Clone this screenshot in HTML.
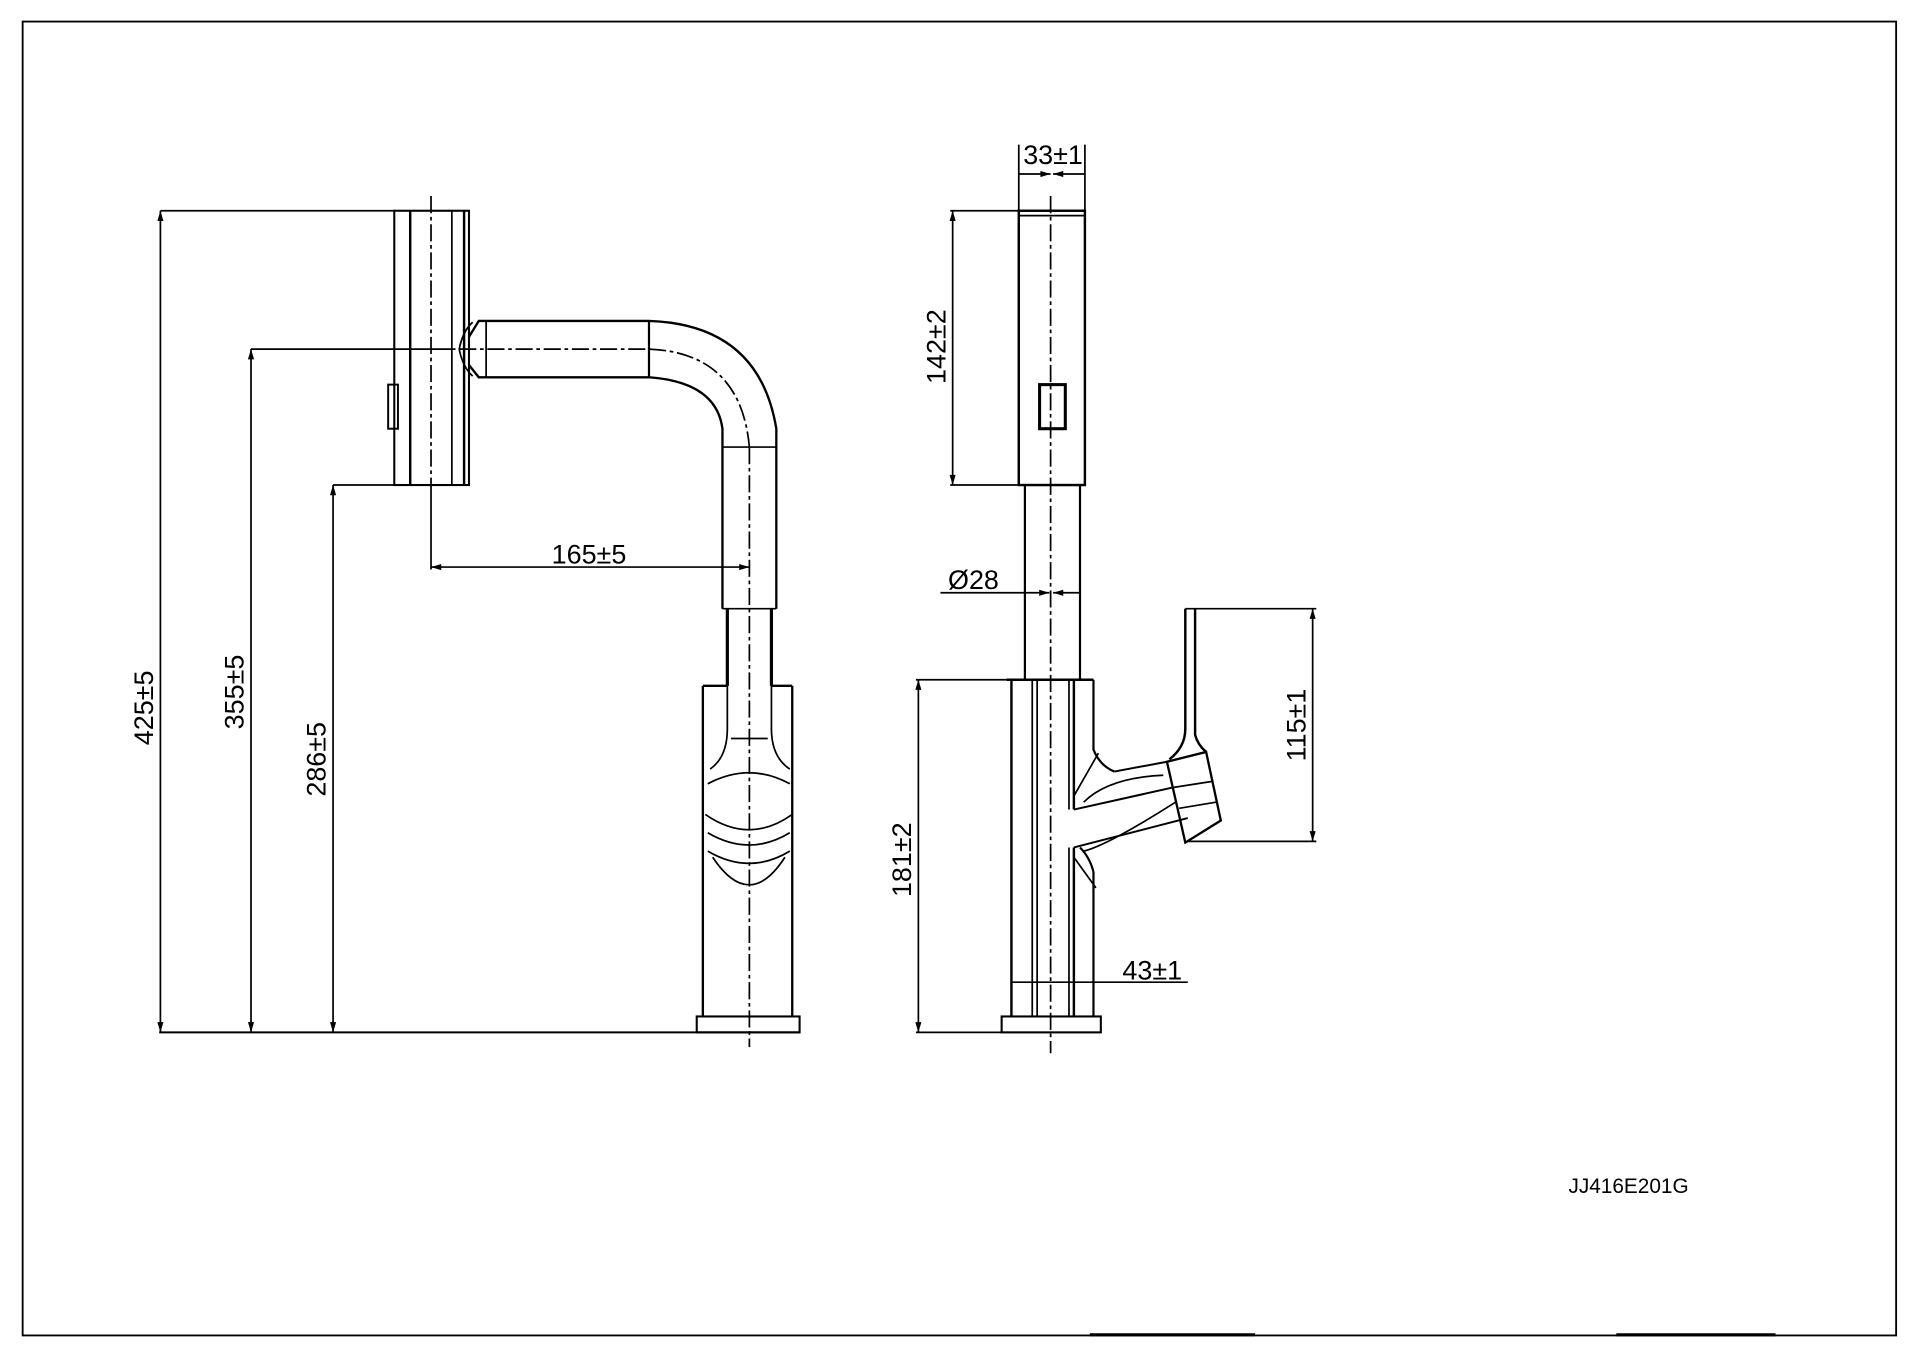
<!DOCTYPE html>
<html><head><meta charset="utf-8"><style>
html,body{margin:0;padding:0;background:#fff;}
svg{display:block;}
text{font-family:"Liberation Sans",Arial,sans-serif;fill:#000;}
</style></head><body>
<svg width="1920" height="1357" viewBox="0 0 1568 1108" xmlns="http://www.w3.org/2000/svg">
<defs>
<marker id="a" viewBox="0 0 10 6" refX="10" refY="3" markerWidth="11" markerHeight="5" orient="auto-start-reverse" markerUnits="userSpaceOnUse"><path d="M0,0 L10,3 L0,6 z" fill="#000"/></marker>
</defs>
<rect x="18.5" y="17.5" width="1530" height="1073" fill="none" stroke="#000" stroke-width="1.5"/>
<g stroke="#000" fill="none" stroke-width="1.4">
<line x1="130" y1="843" x2="653" y2="843" stroke-width="1.6"/>
<line x1="131" y1="172" x2="322" y2="172"/>
<line x1="205" y1="285" x2="372" y2="285"/>
<line x1="272" y1="396" x2="322" y2="396"/>
<line x1="131" y1="172" x2="131" y2="843" marker-start="url(#a)" marker-end="url(#a)"/>
<line x1="205" y1="285" x2="205" y2="843" marker-start="url(#a)" marker-end="url(#a)"/>
<line x1="272" y1="396" x2="272" y2="843" marker-start="url(#a)" marker-end="url(#a)"/>
<line x1="352" y1="396" x2="352" y2="465"/>
<line x1="352" y1="463" x2="612" y2="463" marker-start="url(#a)" marker-end="url(#a)"/>
<rect x="322" y="172" width="61" height="224" stroke-width="1.7"/>
<line x1="335" y1="172" x2="335" y2="396" stroke-width="2"/>
<line x1="369" y1="172" x2="369" y2="396"/>
<line x1="379" y1="172" x2="379" y2="396" stroke-width="2"/>
<rect x="317" y="314" width="8" height="36" stroke-width="1.6"/>
<line x1="352" y1="160" x2="352" y2="396" stroke-dasharray="14,3,3,3"/>
<path d="M383,275 L391,262 L530,262 Q620,265 634,350 L634,497" stroke-width="1.9"/>
<path d="M383,298 L391,308 L530,308 Q585,312 590,350 L590,497" stroke-width="1.9"/>
<path d="M375,285 Q378,270 386,263 M375,285 Q378,300 386,307"/>
<line x1="397" y1="262" x2="397" y2="308"/>
<line x1="530" y1="262" x2="530" y2="308" stroke-width="1.8"/>
<line x1="590" y1="365" x2="634" y2="365"/>
<line x1="375" y1="285" x2="530" y2="285" stroke-dasharray="14,3,3,3"/>
<path d="M530,285 Q605,288 612,365" stroke-dasharray="14,3,3,3"/>
<line x1="590" y1="497" x2="634" y2="497"/>
<path d="M594,497 L594,560 M630,497 L630,560" stroke-width="2.6"/>
<path d="M574,560 L594,560 M630,560 L647,560 M574,560 L574,830 M647,560 L647,830" stroke-width="1.9"/>
<path d="M594,560 L594,595 Q594,618 580,628 M630,560 L630,595 Q630,618 645,628"/>
<line x1="597" y1="603" x2="627" y2="603"/>
<path d="M578,640 Q612,622 645,640 M576,665 Q612,690 647,665 M578,680 Q612,700 645,680"/>
<path d="M578,695 Q612,715 645,695 M582,700 Q612,745 641,700"/>
<rect x="569" y="830" width="84" height="13" stroke-width="1.7"/>
<line x1="612" y1="365" x2="612" y2="855" stroke-dasharray="14,3,3,3"/>

<line x1="832" y1="118" x2="832" y2="172"/>
<line x1="886" y1="118" x2="886" y2="172"/>
<line x1="832" y1="142" x2="858" y2="142" marker-end="url(#a)"/>
<line x1="886" y1="142" x2="860" y2="142" marker-end="url(#a)"/>
<line x1="776" y1="172" x2="832" y2="172"/>
<line x1="776" y1="396" x2="832" y2="396"/>
<line x1="778" y1="172" x2="778" y2="396" marker-start="url(#a)" marker-end="url(#a)"/>
<rect x="832" y="172" width="54" height="224" stroke-width="2"/>
<line x1="832" y1="176" x2="886" y2="176"/>
<rect x="849" y="314" width="21" height="36" stroke-width="2.5"/>
<path d="M837,396 L837,555 M882,396 L882,555" stroke-width="1.8"/>
<line x1="768" y1="484" x2="837" y2="484"/>
<line x1="837" y1="484" x2="857" y2="484" marker-end="url(#a)"/>
<line x1="882" y1="484" x2="860" y2="484" marker-end="url(#a)"/>
<line x1="822" y1="555" x2="893" y2="555" stroke-width="2"/>
<line x1="748" y1="555" x2="822" y2="555"/>
<line x1="748" y1="843" x2="818" y2="843"/>
<line x1="750" y1="555" x2="750" y2="843" marker-start="url(#a)" marker-end="url(#a)"/>
<path d="M826,555 L826,830" stroke-width="2"/>
<line x1="843" y1="555" x2="843" y2="830"/>
<line x1="847" y1="555" x2="847" y2="830"/>
<path d="M873,555 L873,661 M873,692 L873,830"/>
<path d="M877,555 L877,661 M877,692 L877,830" stroke-width="2"/>
<path d="M893,555 L893,612 Q898,625 910,630 M893,712 L893,830 M893,712 Q890,700 882,692" stroke-width="1.8"/>
<path d="M877,661 L958,643 M877,692 L970,668 M910,630 L953,622" stroke-width="1.6"/>
<path d="M877,650 L897,615 M877,700 L895,725 M885,655 Q905,635 950,633 M885,695 Q905,690 960,655"/>
<path d="M953,622 L985,614 L997,670 L968,688 Z" stroke-width="1.9"/>
<path d="M958,643 L990,638 M963,660 L993,655"/>
<path d="M968,497 L968,595 Q968,610 955,620 M976,497 L976,600 Q978,608 985,614" stroke-width="2"/>
<line x1="968" y1="497" x2="1075" y2="497"/>
<line x1="970" y1="687" x2="1075" y2="687"/>
<line x1="1072" y1="497" x2="1072" y2="687" marker-start="url(#a)" marker-end="url(#a)"/>
<line x1="826" y1="802" x2="970" y2="802"/>
<rect x="818" y="830" width="81" height="13" stroke-width="1.7"/>
<line x1="858" y1="160" x2="858" y2="860" stroke-dasharray="14,3,3,3"/>
<line x1="890" y1="1090" x2="1025" y2="1090" stroke-width="2.5"/>
<line x1="1320" y1="1090" x2="1450" y2="1090" stroke-width="2.5"/>
</g>
<g font-size="22">
<text x="131" y="578" transform="rotate(-90 131 578)" text-anchor="middle" dy="-6">425±5</text>
<text x="205" y="565" transform="rotate(-90 205 565)" text-anchor="middle" dy="-6">355±5</text>
<text x="272" y="620" transform="rotate(-90 272 620)" text-anchor="middle" dy="-6">286±5</text>
<text x="481" y="460" text-anchor="middle">165±5</text>
<text x="860" y="134" text-anchor="middle">33±1</text>
<text x="778" y="283" transform="rotate(-90 778 283)" text-anchor="middle" dy="-6">142±2</text>
<text x="795" y="481" text-anchor="middle">Ø28</text>
<text x="750" y="702" transform="rotate(-90 750 702)" text-anchor="middle" dy="-6">181±2</text>
<text x="941" y="800" text-anchor="middle">43±1</text>
<text x="1072" y="592" transform="rotate(-90 1072 592)" text-anchor="middle" dy="-6">115±1</text>
<text x="1330" y="974" text-anchor="middle" font-size="17">JJ416E201G</text>
</g>
</svg>
</body></html>
